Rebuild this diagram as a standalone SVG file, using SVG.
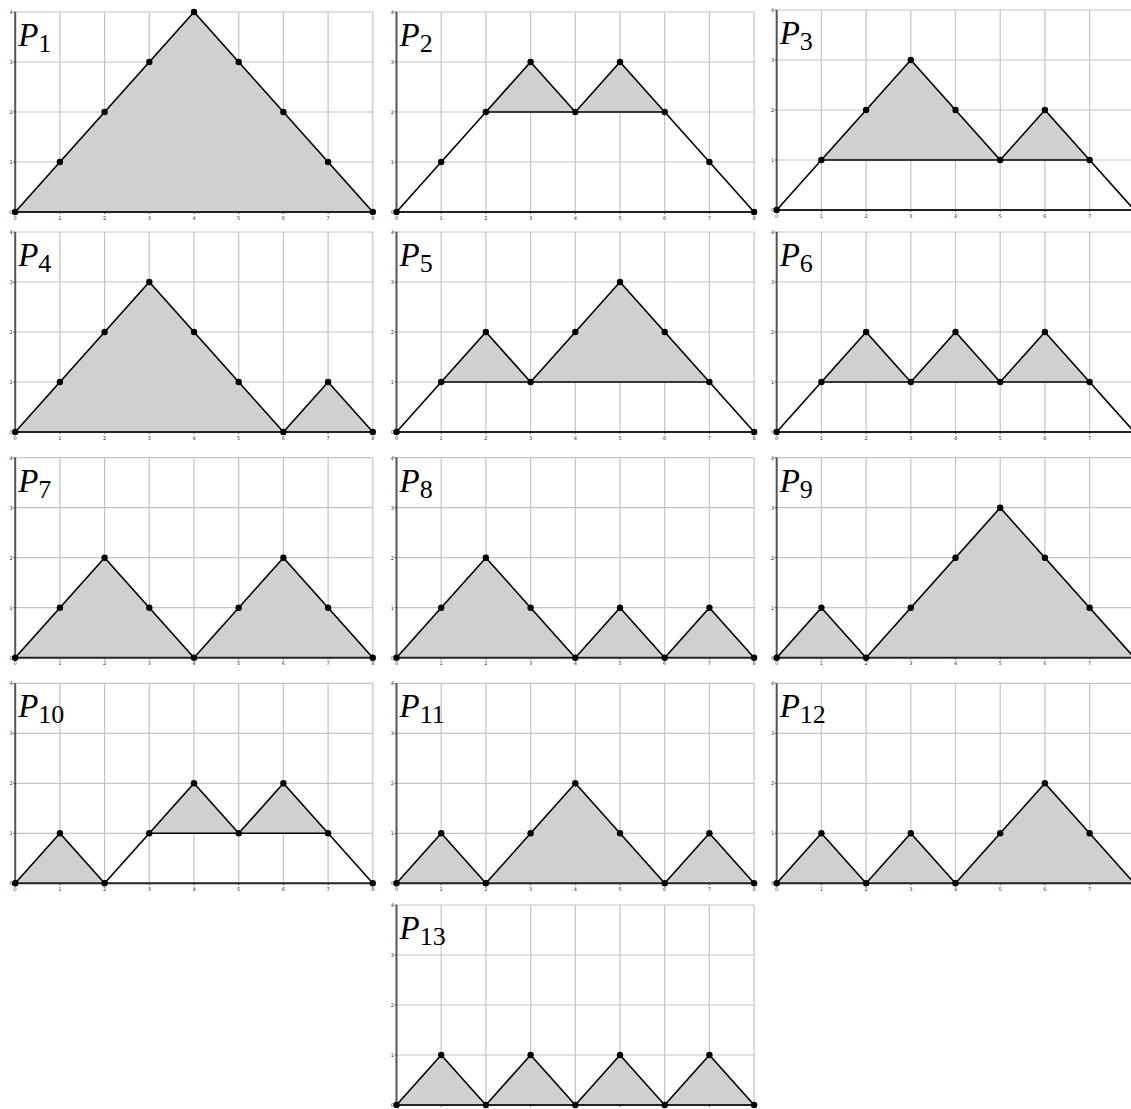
<svg xmlns="http://www.w3.org/2000/svg" xmlns:xlink="http://www.w3.org/1999/xlink" width="1131" height="1109" viewBox="0 0 1131 1109">
<style>
.gl{stroke:#c4c4c4;stroke-width:1.2;fill:none}
.ax{stroke:#555;stroke-width:2;fill:none}
.axb{stroke:#222;stroke-width:2;fill:none}
.tk{font-family:"DejaVu Sans",sans-serif;font-size:5px;fill:#333}
.fl{fill:#d0d0d0;stroke:none}
.pt{fill:none;stroke:#000;stroke-width:1.6;stroke-linejoin:round;marker-start:url(#dot);marker-mid:url(#dot);marker-end:url(#dot)}
.bl{stroke:#000;stroke-width:1.6}
.lab{font-family:"Liberation Serif",serif;font-size:33px;fill:#000}
.lab .p{font-style:italic}
.lab .s{font-size:26px}
</style>
<defs>
<marker id="dot" markerUnits="userSpaceOnUse" markerWidth="8" markerHeight="8" refX="4" refY="4" viewBox="0 0 8 8" overflow="visible"><circle cx="4" cy="4" r="3.2" fill="#000"/></marker>
<g id="grid">
<path class="gl" d="M44.7,0V-200M89.4,0V-200M134.1,0V-200M178.8,0V-200M223.5,0V-200M268.2,0V-200M312.9,0V-200M357.6,0V-200M0,-50H357.6M0,-100H357.6M0,-150H357.6M0,-200H357.6"/>
</g>
<g id="axes">
<path class="ax" d="M0,0V-200"/>
<path class="axb" d="M0,0H357.6"/>
<path stroke="#333" stroke-width="0.8" d="M44.7,0v2M89.4,0v2M134.1,0v2M178.8,0v2M223.5,0v2M268.2,0v2M312.9,0v2M357.6,0v2M0,-50h-2M0,-100h-2M0,-150h-2M0,-200h-2"/>
<g class="tk" text-anchor="middle">
<text x="0" y="7.5">0</text><text x="44.7" y="7.5">1</text><text x="89.4" y="7.5">2</text><text x="134.1" y="7.5">3</text><text x="178.8" y="7.5">4</text><text x="223.5" y="7.5">5</text><text x="268.2" y="7.5">6</text><text x="312.9" y="7.5">7</text><text x="357.6" y="7.5">8</text>
</g>
<g class="tk" text-anchor="end">
<text x="-2.5" y="1.8">0</text><text x="-2.5" y="-48.2">1</text><text x="-2.5" y="-98.2">2</text><text x="-2.5" y="-148.2">3</text><text x="-2.5" y="-198.2">4</text>
</g>
</g>
</defs>

<g id="P1" transform="translate(15.2,212)">
<use href="#grid"/>
<polygon class="fl" points="0,0 44.7,-50 89.4,-100 134.1,-150 178.8,-200 223.5,-150 268.2,-100 312.9,-50 357.6,0"/>
<use href="#axes"/>
<polyline class="pt" points="0,0 44.7,-50 89.4,-100 134.1,-150 178.8,-200 223.5,-150 268.2,-100 312.9,-50 357.6,0"/>
<text class="lab" x="3" y="-166"><tspan class="p">P</tspan><tspan class="s" dy="6">1</tspan></text>
</g>

<g id="P2" transform="translate(396.5,212)">
<use href="#grid"/>
<polygon class="fl" points="89.4,-100 134.1,-150 178.8,-100 223.5,-150 268.2,-100"/>
<use href="#axes"/>
<line class="bl" x1="89.4" y1="-100" x2="268.2" y2="-100"/>
<polyline class="pt" points="0,0 44.7,-50 89.4,-100 134.1,-150 178.8,-100 223.5,-150 268.2,-100 312.9,-50 357.6,0"/>
<text class="lab" x="3" y="-166"><tspan class="p">P</tspan><tspan class="s" dy="6">2</tspan></text>
</g>

<g id="P3" transform="translate(776.7,210)">
<use href="#grid"/>
<polygon class="fl" points="44.7,-50 89.4,-100 134.1,-150 178.8,-100 223.5,-50 268.2,-100 312.9,-50"/>
<use href="#axes"/>
<line class="bl" x1="44.7" y1="-50" x2="312.9" y2="-50"/>
<polyline class="pt" points="0,0 44.7,-50 89.4,-100 134.1,-150 178.8,-100 223.5,-50 268.2,-100 312.9,-50 357.6,0"/>
<text class="lab" x="3" y="-166"><tspan class="p">P</tspan><tspan class="s" dy="6">3</tspan></text>
</g>

<g id="P4" transform="translate(15.2,432)">
<use href="#grid"/>
<polygon class="fl" points="0,0 44.7,-50 89.4,-100 134.1,-150 178.8,-100 223.5,-50 268.2,0 312.9,-50 357.6,0"/>
<use href="#axes"/>
<polyline class="pt" points="0,0 44.7,-50 89.4,-100 134.1,-150 178.8,-100 223.5,-50 268.2,0 312.9,-50 357.6,0"/>
<text class="lab" x="3" y="-166"><tspan class="p">P</tspan><tspan class="s" dy="6">4</tspan></text>
</g>

<g id="P5" transform="translate(396.5,432)">
<use href="#grid"/>
<polygon class="fl" points="44.7,-50 89.4,-100 134.1,-50 178.8,-100 223.5,-150 268.2,-100 312.9,-50"/>
<use href="#axes"/>
<line class="bl" x1="44.7" y1="-50" x2="312.9" y2="-50"/>
<polyline class="pt" points="0,0 44.7,-50 89.4,-100 134.1,-50 178.8,-100 223.5,-150 268.2,-100 312.9,-50 357.6,0"/>
<text class="lab" x="3" y="-166"><tspan class="p">P</tspan><tspan class="s" dy="6">5</tspan></text>
</g>

<g id="P6" transform="translate(776.7,432)">
<use href="#grid"/>
<polygon class="fl" points="44.7,-50 89.4,-100 134.1,-50 178.8,-100 223.5,-50 268.2,-100 312.9,-50"/>
<use href="#axes"/>
<line class="bl" x1="44.7" y1="-50" x2="312.9" y2="-50"/>
<polyline class="pt" points="0,0 44.7,-50 89.4,-100 134.1,-50 178.8,-100 223.5,-50 268.2,-100 312.9,-50 357.6,0"/>
<text class="lab" x="3" y="-166"><tspan class="p">P</tspan><tspan class="s" dy="6">6</tspan></text>
</g>

<g id="P7" transform="translate(15.2,657.7)">
<use href="#grid"/>
<polygon class="fl" points="0,0 44.7,-50 89.4,-100 134.1,-50 178.8,0 223.5,-50 268.2,-100 312.9,-50 357.6,0"/>
<use href="#axes"/>
<polyline class="pt" points="0,0 44.7,-50 89.4,-100 134.1,-50 178.8,0 223.5,-50 268.2,-100 312.9,-50 357.6,0"/>
<text class="lab" x="3" y="-166"><tspan class="p">P</tspan><tspan class="s" dy="6">7</tspan></text>
</g>

<g id="P8" transform="translate(396.5,657.7)">
<use href="#grid"/>
<polygon class="fl" points="0,0 44.7,-50 89.4,-100 134.1,-50 178.8,0 223.5,-50 268.2,0 312.9,-50 357.6,0"/>
<use href="#axes"/>
<polyline class="pt" points="0,0 44.7,-50 89.4,-100 134.1,-50 178.8,0 223.5,-50 268.2,0 312.9,-50 357.6,0"/>
<text class="lab" x="3" y="-166"><tspan class="p">P</tspan><tspan class="s" dy="6">8</tspan></text>
</g>

<g id="P9" transform="translate(776.7,657.7)">
<use href="#grid"/>
<polygon class="fl" points="0,0 44.7,-50 89.4,0 134.1,-50 178.8,-100 223.5,-150 268.2,-100 312.9,-50 357.6,0"/>
<use href="#axes"/>
<polyline class="pt" points="0,0 44.7,-50 89.4,0 134.1,-50 178.8,-100 223.5,-150 268.2,-100 312.9,-50 357.6,0"/>
<text class="lab" x="3" y="-166"><tspan class="p">P</tspan><tspan class="s" dy="6">9</tspan></text>
</g>

<g id="P10" transform="translate(15.2,883.3)">
<use href="#grid"/>
<polygon class="fl" points="0,0 44.7,-50 89.4,0"/>
<polygon class="fl" points="134.1,-50 178.8,-100 223.5,-50 268.2,-100 312.9,-50"/>
<use href="#axes"/>
<line class="bl" x1="134.1" y1="-50" x2="312.9" y2="-50"/>
<polyline class="pt" points="0,0 44.7,-50 89.4,0 134.1,-50 178.8,-100 223.5,-50 268.2,-100 312.9,-50 357.6,0"/>
<text class="lab" x="3" y="-166"><tspan class="p">P</tspan><tspan class="s" dy="6">10</tspan></text>
</g>

<g id="P11" transform="translate(396.5,883.3)">
<use href="#grid"/>
<polygon class="fl" points="0,0 44.7,-50 89.4,0 134.1,-50 178.8,-100 223.5,-50 268.2,0 312.9,-50 357.6,0"/>
<use href="#axes"/>
<polyline class="pt" points="0,0 44.7,-50 89.4,0 134.1,-50 178.8,-100 223.5,-50 268.2,0 312.9,-50 357.6,0"/>
<text class="lab" x="3" y="-166"><tspan class="p">P</tspan><tspan class="s" dy="6">11</tspan></text>
</g>

<g id="P12" transform="translate(776.7,883.3)">
<use href="#grid"/>
<polygon class="fl" points="0,0 44.7,-50 89.4,0 134.1,-50 178.8,0 223.5,-50 268.2,-100 312.9,-50 357.6,0"/>
<use href="#axes"/>
<polyline class="pt" points="0,0 44.7,-50 89.4,0 134.1,-50 178.8,0 223.5,-50 268.2,-100 312.9,-50 357.6,0"/>
<text class="lab" x="3" y="-166"><tspan class="p">P</tspan><tspan class="s" dy="6">12</tspan></text>
</g>

<g id="P13" transform="translate(396.5,1105)">
<use href="#grid"/>
<polygon class="fl" points="0,0 44.7,-50 89.4,0 134.1,-50 178.8,0 223.5,-50 268.2,0 312.9,-50 357.6,0"/>
<use href="#axes"/>
<polyline class="pt" points="0,0 44.7,-50 89.4,0 134.1,-50 178.8,0 223.5,-50 268.2,0 312.9,-50 357.6,0"/>
<text class="lab" x="3" y="-166"><tspan class="p">P</tspan><tspan class="s" dy="6">13</tspan></text>
</g>
</svg>
